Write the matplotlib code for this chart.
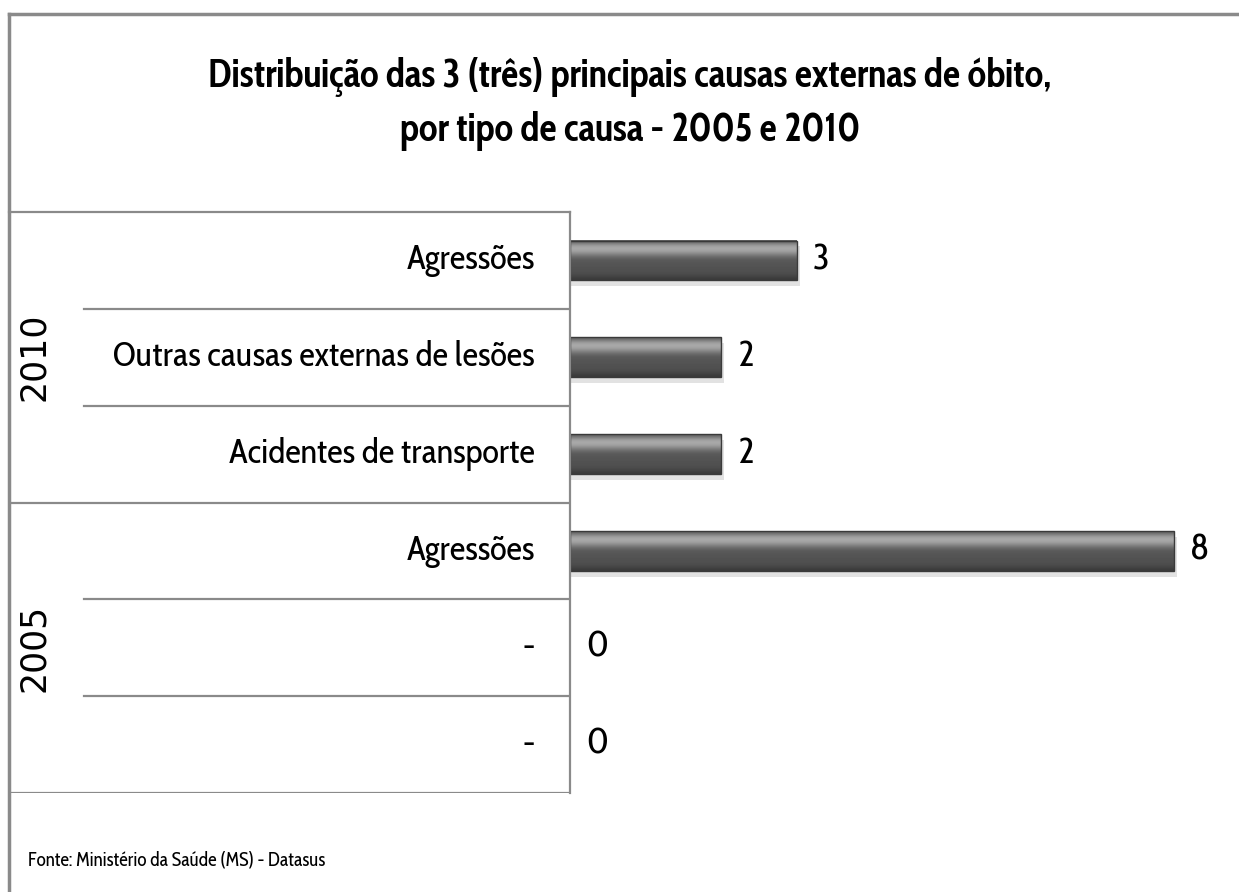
import numpy as np
import matplotlib
matplotlib.use('Agg')
import matplotlib.pyplot as plt
from matplotlib import font_manager
from matplotlib.lines import Line2D

# Dados
anos = ['2010', '2005']
causas = ['Agressões', 'Outras causas externas de lesões', 'Acidentes de transporte',
          'Agressões', '-', '-']
valores = [3, 2, 2, 8, 0, 0]
titulo = 'Distribuição das 3 (três) principais causas externas de óbito,\npor tipo de causa - 2005 e 2010'
fonte = 'Fonte: Ministério da Saúde (MS) - Datasus'

# Fonte estreita, parecida com Calibri
nomes = {f.name for f in font_manager.fontManager.ttflist}
narrow = next((n for n in ['Cabin Condensed', 'Carlito', 'DejaVu Sans'] if n in nomes), 'DejaVu Sans')

W, H = 1239, 892
fig = plt.figure(figsize=(W / 100, H / 100), dpi=100)
fig.patch.set_facecolor('white')

# Moldura externa (só topo e esquerda aparecem)
cor_borda = '#8a8a8a'
fig.add_artist(Line2D([9 / W, 1], [1 - 14 / H, 1 - 14 / H], color=cor_borda, lw=2.5))
fig.add_artist(Line2D([9 / W, 9 / W], [0, 1 - 14 / H], color=cor_borda, lw=2.5))

# Posições em pixels
x_eixo, x_tab, x_fim = 570, 9, 1239
y_top, y_bot = 212, 793
bottom = 1 - y_bot / H
height = (y_bot - y_top) / H
n = len(valores)
escala = 75.5  # px por unidade

# Eixo das barras
ax = fig.add_axes([x_eixo / W, bottom, (x_fim - x_eixo) / W, height])
for s in ax.spines.values():
    s.set_visible(False)
ax.set_xticks([])
ax.set_yticks([])

# Gradiente vertical para o efeito de bisel
grad = np.array([0.38, 0.60, 0.68, 0.62, 0.48, 0.37, 0.34, 0.33, 0.32, 0.31, 0.29, 0.23])
grad_img = np.repeat(grad[:, None], 2, axis=1)
h = 0.41
for i, v in enumerate(valores):
    if v > 0:
        # sombra
        ax.barh(i + 0.06, v + 0.04, height=h, color='#cfcfcf', alpha=0.6, zorder=1)
        ax.imshow(grad_img, cmap='gray', vmin=0, vmax=1, aspect='auto',
                  extent=(0, v, i + h / 2, i - h / 2), interpolation='bicubic', zorder=2)
        ax.barh(i, v, height=h, facecolor='none', edgecolor='#3a3a3a', lw=1.0, zorder=3)
    ax.text(v + 16 / escala, i, str(v), va='center', ha='left',
            fontsize=26, family=narrow, color='black')
ax.set_xlim(0, (x_fim - x_eixo) / escala)
ax.set_ylim(n - 0.5, -0.5)

# Tabela de categorias
tab = fig.add_axes([x_tab / W, bottom, (x_eixo - x_tab) / W, height])
tab.set_xlim(0, x_eixo - x_tab)
tab.set_ylim(n - 0.5, -0.5)
tab.set_xticks([])
tab.set_yticks([])
tab.patch.set_alpha(0)
for s in ['left', 'bottom']:
    tab.spines[s].set_visible(False)
for s in ['top', 'right']:
    tab.spines[s].set_color(cor_borda)
    tab.spines[s].set_linewidth(1.6)

x_sub = 84 - x_tab
for b in np.arange(0.5, n - 0.5, 1):
    ini = 0 if b == 2.5 else x_sub
    tab.plot([ini, x_eixo - x_tab], [b, b], color=cor_borda, lw=1.6)
tab.plot([0, x_eixo - x_tab], [n - 0.5, n - 0.5], color=cor_borda, lw=1.6)

for i, c in enumerate(causas):
    tab.text(535 - x_tab, i, c, ha='right', va='center', fontsize=25,
             family=narrow, color='black')

for k, ano in enumerate(anos):
    tab.text(34 - x_tab, 3 * k + 1, ano, rotation=90, ha='center', va='center',
             fontsize=25, family='DejaVu Sans', color='black')

# Título e fonte
fig.text(630 / W, 1 - 104 / H, titulo, ha='center', va='center', fontsize=27.5,
         fontweight='bold', family=narrow, linespacing=1.45)
fig.text(28 / W, 1 - 860 / H, fonte, ha='left', va='center', fontsize=13.8,
         family=narrow, color='black')

fig.savefig('out.png', dpi=100, facecolor='white')
